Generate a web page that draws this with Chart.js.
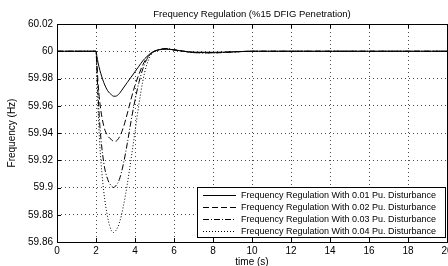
<!DOCTYPE html>
<html lang="en">
<head>
    <meta charset="UTF-8">
    <title>Frequency Regulation</title>
    <script src="https://cdn.jsdelivr.net/npm/chart.js"></script>
    <style>
        body {
            margin: 0;
            padding: 0;
            background: #fff;
            overflow: hidden;
        }
        .wrap {
            width: 448px;
            height: 266px;
            overflow: hidden;
        }
    </style>
</head>
<body>
    <div class="wrap">
        <canvas id="freqChart" width="462" height="266"></canvas>
    </div>

    <script>
        // data
        const times = [0, 2, 2.05, 2.1, 2.2, 2.4, 2.6, 2.8, 2.9, 3.0, 3.2, 3.4, 3.6, 3.8, 4.0, 4.2, 4.4, 4.6, 4.9, 5.2, 5.6, 6.0, 6.5, 7.0, 8.0, 9.0, 10, 12, 14, 16, 18, 20];
        const dist01 = [60, 60, 59.996, 59.992, 59.986, 59.977, 59.971, 59.968, 59.967, 59.967, 59.969, 59.973, 59.977, 59.981, 59.985, 59.989, 59.993, 59.996, 59.9995, 60.001, 60.0015, 60.001, 60.0, 59.9993, 59.9992, 59.9995, 60, 60, 60, 60, 60, 60];
        const dist02 = [60, 60, 59.99, 59.978, 59.962, 59.945, 59.938, 59.935, 59.934, 59.934, 59.937, 59.944, 59.954, 59.965, 59.975, 59.983, 59.99, 59.995, 59.999, 60.001, 60.0018, 60.001, 60.0, 59.9992, 59.999, 59.9995, 60, 60, 60, 60, 60, 60];
        const dist03 = [60, 60, 59.985, 59.97, 59.945, 59.918, 59.906, 59.901, 59.9, 59.901, 59.906, 59.917, 59.932, 59.949, 59.964, 59.977, 59.987, 59.994, 59.999, 60.001, 60.002, 60.001, 60.0, 59.999, 59.9988, 59.9995, 60, 60, 60, 60, 60, 60];
        const dist04 = [60, 60, 59.98, 59.96, 59.93, 59.897, 59.878, 59.868, 59.867, 59.868, 59.874, 59.886, 59.902, 59.921, 59.941, 59.961, 59.978, 59.99, 59.999, 60.001, 60.002, 60.001, 60.0, 59.999, 59.9988, 59.9995, 60, 60, 60, 60, 60, 60];
        const seriesLabels = [
            'Frequency Regulation With 0.01 Pu. Disturbance',
            'Frequency Regulation With 0.02 Pu. Disturbance',
            'Frequency Regulation With 0.03 Pu. Disturbance',
            'Frequency Regulation With 0.04 Pu. Disturbance'
        ];
        const dashes = [[], [6, 3], [6, 2, 1, 2], [1, 2]];
        const allSeries = [dist01, dist02, dist03, dist04];

        const FONT = "'Liberation Sans', Arial, sans-serif";
        const GRID = 'rgba(0,0,0,0.7)';

        // box round the axes, inward tick marks, legend inside the plot
        const matlabFrame = {
            id: 'matlabFrame',
            afterDraw(chart) {
                const { ctx, chartArea: a, scales } = chart;
                ctx.save();
                ctx.strokeStyle = '#000';
                ctx.lineWidth = 1;
                ctx.setLineDash([]);
                ctx.strokeRect(a.left + 0.5, a.top + 0.5, a.right - a.left, a.bottom - a.top);

                ctx.beginPath();
                scales.x.ticks.forEach(t => {
                    const px = Math.round(scales.x.getPixelForValue(t.value)) + 0.5;
                    ctx.moveTo(px, a.bottom); ctx.lineTo(px, a.bottom - 4);
                    ctx.moveTo(px, a.top); ctx.lineTo(px, a.top + 4);
                });
                scales.y.ticks.forEach(t => {
                    const py = Math.round(scales.y.getPixelForValue(t.value)) + 0.5;
                    ctx.moveTo(a.left, py); ctx.lineTo(a.left + 4, py);
                });
                ctx.stroke();

                // legend
                const lx = 197, ly = 187, lw = 248, lh = 50;
                ctx.fillStyle = '#fff';
                ctx.fillRect(lx, ly, lw, lh);
                ctx.strokeRect(lx + 0.5, ly + 0.5, lw, lh);
                ctx.font = '9px ' + FONT;
                ctx.textBaseline = 'middle';
                ctx.textAlign = 'left';
                chart.data.datasets.forEach((ds, i) => {
                    const y = Math.round(ly + 7.5 + i * 12.3) + 0.5;
                    ctx.beginPath();
                    ctx.setLineDash(ds.borderDash);
                    ctx.moveTo(lx + 6, y);
                    ctx.lineTo(lx + 39, y);
                    ctx.stroke();
                    ctx.setLineDash([]);
                    ctx.fillStyle = '#000';
                    ctx.fillText(ds.label, lx + 44, y);
                });
                ctx.restore();
            }
        };

        const ctx = document.getElementById('freqChart').getContext('2d');

        new Chart(ctx, {
            type: 'line',
            data: {
                datasets: allSeries.map((vals, i) => ({
                    label: seriesLabels[i],
                    data: times.map((t, k) => ({ x: t, y: vals[k] })),
                    borderColor: '#000',
                    borderWidth: 1,
                    borderDash: dashes[i],
                    pointRadius: 0,
                    fill: false,
                    cubicInterpolationMode: 'monotone'
                }))
            },
            options: {
                responsive: false,
                animation: false,
                layout: {
                    padding: { left: 0, right: 15, top: 0, bottom: 0 }
                },
                plugins: {
                    legend: { display: false },
                    tooltip: { enabled: false }
                },
                scales: {
                    x: {
                        type: 'linear',
                        min: 0,
                        max: 20,
                        ticks: {
                            stepSize: 2,
                            padding: 3,
                            color: '#000',
                            font: { family: FONT, size: 10 },
                            maxRotation: 0
                        },
                        grid: {
                            color: GRID,
                            drawTicks: false,
                            borderDash: [1, 3]
                        },
                        border: { display: false, dash: [1, 3] },
                        title: {
                            display: true,
                            text: 'time (s)',
                            color: '#000',
                            font: { family: FONT, size: 10 },
                            padding: { top: 0, bottom: -2 }
                        },
                        afterFit(scale) { scale.height = 24; }
                    },
                    xTop: {
                        type: 'linear',
                        position: 'top',
                        min: 0,
                        max: 20,
                        ticks: { display: false },
                        grid: { display: false, drawTicks: false },
                        border: { display: false },
                        title: {
                            display: true,
                            text: 'Frequency Regulation (%15 DFIG Penetration)',
                            color: '#000',
                            font: { family: FONT, size: 9.5 },
                            padding: { top: 9, bottom: 0 }
                        },
                        afterFit(scale) { scale.height = 24; }
                    },
                    y: {
                        min: 59.86,
                        max: 60.02,
                        ticks: {
                            stepSize: 0.02,
                            padding: 4,
                            color: '#000',
                            font: { family: FONT, size: 10 },
                            callback: v => String(Number(v.toFixed(2)))
                        },
                        grid: {
                            color: GRID,
                            drawTicks: false,
                            borderDash: [1, 3]
                        },
                        border: { display: false, dash: [1, 3] },
                        title: {
                            display: true,
                            text: 'Frequency (Hz)',
                            color: '#000',
                            font: { family: FONT, size: 10 },
                            padding: { top: 6, bottom: 0 }
                        },
                        afterFit(scale) { scale.width = 57; }
                    }
                }
            },
            plugins: [matlabFrame]
        });
    </script>
</body>
</html>
